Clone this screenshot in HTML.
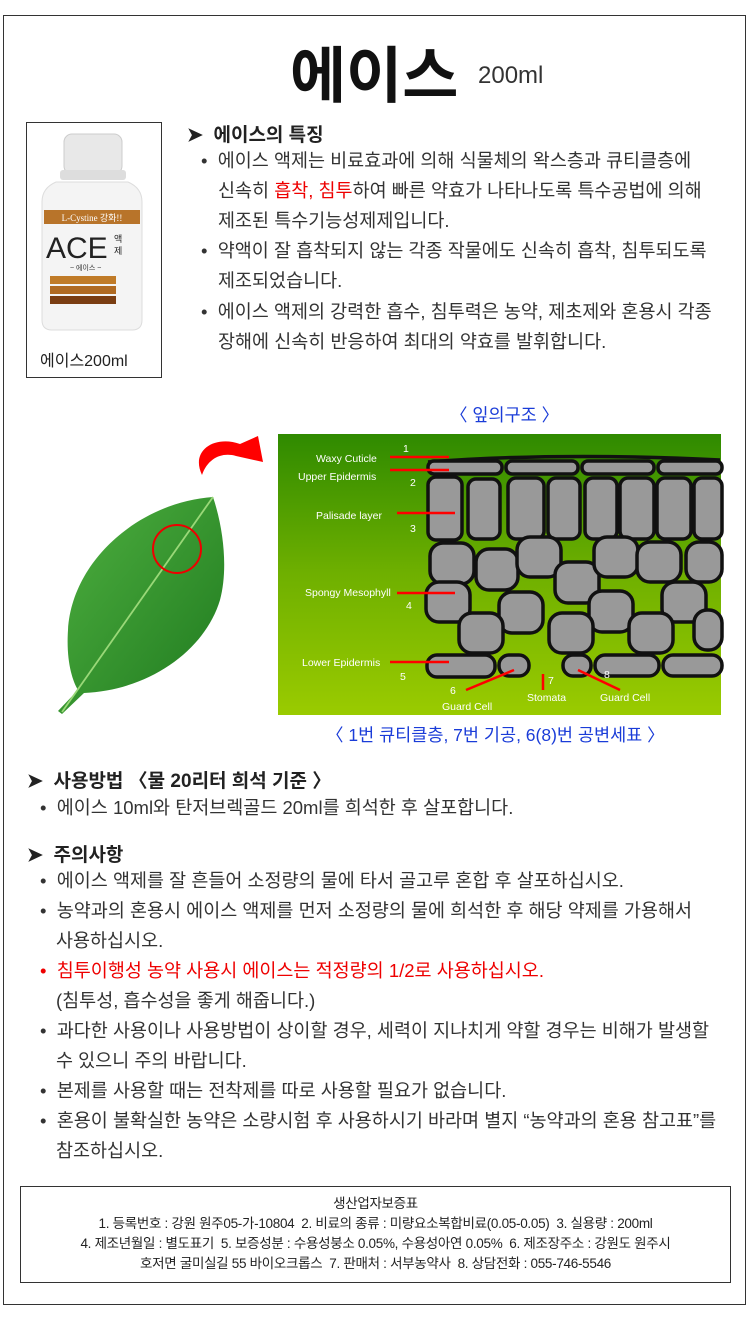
<!DOCTYPE html>
<html><head><meta charset="utf-8"><style>
*{margin:0;padding:0;box-sizing:border-box}
body{width:750px;height:1327px;background:#fff;position:relative;font-family:"Liberation Sans","Noto Sans CJK KR",sans-serif;color:#222;overflow:hidden}
.a{position:absolute;white-space:nowrap}
.t{font-size:18.5px;line-height:30px;color:#333}
.h{font-size:19px;font-weight:bold}
.r{color:#e00}
.b{color:#1a3cd8;font-size:17.5px}
.ft{font-size:13.5px;text-align:center;line-height:20px;letter-spacing:-0.3px}
</style></head><body>
<div class="a" style="left:3px;top:15px;width:743px;height:1290px;border:1px solid #333"></div>
<div class="a" style="left:290px;top:26px;font-size:61px;font-weight:bold;color:#111">에이스</div>
<div class="a" style="left:478px;top:62px;font-size:24px;color:#333">200ml</div>

<div class="a" style="left:26px;top:122px;width:136px;height:256px;border:1px solid #333"></div>
<svg class="a" style="left:36px;top:130px" width="110" height="208" viewBox="0 0 110 208">
<rect x="28" y="4" width="58" height="40" rx="8" fill="#e8e8e8" stroke="#ccc"/>
<rect x="24" y="40" width="66" height="10" rx="3" fill="#ddd"/>
<path d="M20 52 Q6 58 6 72 L6 190 Q6 200 16 200 L96 200 Q106 200 106 190 L106 72 Q106 58 92 52 Z" fill="#f4f4f4" stroke="#ddd"/>
<rect x="8" y="80" width="96" height="14" fill="#b8742a"/>
<text x="56" y="91" font-size="9" fill="#fff" text-anchor="middle" font-family="Liberation Serif,serif">L-Cystine 강화!!</text>
<text x="10" y="128" font-size="30" fill="#222" font-family="Liberation Sans,sans-serif">ACE</text>
<text x="78" y="112" font-size="9" fill="#222">액</text><text x="78" y="124" font-size="9" fill="#222">제</text>
<text x="34" y="140" font-size="7" fill="#333">~ 에이스 ~</text>
<rect x="14" y="146" width="66" height="8" fill="#c07b28"/>
<rect x="14" y="156" width="66" height="8" fill="#b06a22"/>
<rect x="14" y="166" width="66" height="8" fill="#7a3d12"/>
</svg>
<div class="a" style="left:40px;top:347px;font-size:16px;color:#222">에이스200ml</div>

<div class="a h" style="left:187px;top:120px">➤ &nbsp;에이스의 특징</div>
<div class="a t" style="left:201px;top:146px">•&nbsp; 에이스 액제는 비료효과에 의해 식물체의 왁스층과 큐티클층에</div>
<div class="a t" style="left:218px;top:176px">신속히 <span class="r">흡착, 침투</span>하여 빠른 약효가 나타나도록 특수공법에 의해</div>
<div class="a t" style="left:218px;top:206px">제조된 특수기능성제제입니다.</div>
<div class="a t" style="left:201px;top:236px">•&nbsp; 약액이 잘 흡착되지 않는 각종 작물에도 신속히 흡착, 침투되도록</div>
<div class="a t" style="left:218px;top:266px">제조되었습니다.</div>
<div class="a t" style="left:201px;top:297px">•&nbsp; 에이스 액제의 강력한 흡수, 침투력은 농약, 제초제와 혼용시 각종</div>
<div class="a t" style="left:218px;top:327px">장해에 신속히 반응하여 최대의 약효를 발휘합니다.</div>

<div class="a b" style="left:450px;top:402px">〈 잎의구조 〉</div>

<svg class="a" style="left:0;top:0" width="750" height="760" viewBox="0 0 750 760">
<defs><linearGradient id="g" x1="0" y1="0" x2="0" y2="1"><stop offset="0" stop-color="#2f8a00"/><stop offset="0.5" stop-color="#6fb000"/><stop offset="1" stop-color="#9acb00"/></linearGradient>
<linearGradient id="lf" x1="0" y1="0" x2="1" y2="1"><stop offset="0" stop-color="#4fb040"/><stop offset="1" stop-color="#1f7a1f"/></linearGradient></defs>
<rect x="278" y="434" width="443" height="281" fill="url(#g)"/>
<g fill="#999" stroke="#111" stroke-width="3.5">
<path d="M428 462 Q560 452 720 460" fill="none"/>
<rect x="428" y="461" width="74" height="13" rx="6"/><rect x="506" y="461" width="72" height="13" rx="6"/><rect x="582" y="461" width="72" height="13" rx="6"/><rect x="658" y="461" width="64" height="13" rx="6"/>
<rect x="428" y="477" width="34" height="63" rx="8"/><rect x="468" y="479" width="32" height="60" rx="8"/><rect x="508" y="478" width="36" height="61" rx="8"/><rect x="548" y="478" width="32" height="61" rx="8"/><rect x="585" y="478" width="32" height="61" rx="8"/><rect x="620" y="478" width="34" height="61" rx="8"/><rect x="657" y="478" width="34" height="61" rx="8"/><rect x="694" y="478" width="28" height="61" rx="8"/>
<rect x="430" y="543" width="44" height="41" rx="13"/><rect x="476" y="549" width="42" height="41" rx="13"/><rect x="517" y="537" width="44" height="40" rx="13"/><rect x="555" y="562" width="44" height="41" rx="13"/><rect x="594" y="537" width="44" height="40" rx="13"/><rect x="637" y="542" width="44" height="40" rx="13"/><rect x="686" y="542" width="36" height="40" rx="13"/>
<rect x="426" y="582" width="44" height="40" rx="13"/><rect x="499" y="592" width="44" height="41" rx="13"/><rect x="589" y="591" width="44" height="41" rx="13"/><rect x="662" y="582" width="44" height="40" rx="13"/>
<rect x="459" y="613" width="44" height="40" rx="13"/><rect x="549" y="613" width="44" height="40" rx="13"/><rect x="629" y="613" width="44" height="40" rx="13"/><rect x="694" y="610" width="28" height="40" rx="13"/>
<rect x="427" y="655" width="68" height="22" rx="10"/><rect x="499" y="655" width="30" height="21" rx="10"/><rect x="563" y="655" width="28" height="21" rx="10"/><rect x="595" y="655" width="64" height="21" rx="10"/><rect x="663" y="655" width="59" height="21" rx="10"/>
</g>
<g stroke="#f00" stroke-width="2.5">
<line x1="390" y1="457" x2="449" y2="457"/><line x1="390" y1="470" x2="449" y2="470"/><line x1="397" y1="513" x2="455" y2="513"/><line x1="397" y1="593" x2="455" y2="593"/><line x1="390" y1="662" x2="449" y2="662"/>
<line x1="466" y1="690" x2="514" y2="670"/><line x1="543" y1="674" x2="543" y2="690"/><line x1="578" y1="670" x2="620" y2="690"/>
</g>
<g fill="#fff" font-size="10.5" font-family="Liberation Sans,sans-serif">
<text x="316" y="462">Waxy Cuticle</text><text x="298" y="480">Upper Epidermis</text><text x="316" y="519">Palisade layer</text><text x="305" y="596">Spongy Mesophyll</text><text x="302" y="666">Lower Epidermis</text>
<text x="403" y="452">1</text><text x="410" y="486">2</text><text x="410" y="532">3</text><text x="406" y="609">4</text><text x="400" y="680">5</text><text x="450" y="694">6</text><text x="548" y="684">7</text><text x="604" y="678">8</text>
<text x="442" y="710">Guard Cell</text><text x="527" y="701">Stomata</text><text x="600" y="701">Guard Cell</text>
</g>
<path d="M213 497 C140 502 72 560 68 630 C66 660 72 680 78 690 L58 711 L62 714 L84 693 C150 690 205 650 220 600 C228 570 224 530 213 497 Z" fill="url(#lf)"/>
<path d="M213 497 L62 712" stroke="#9ad878" stroke-width="1.8" fill="none"/>
<circle cx="177" cy="549" r="24" fill="none" stroke="#e00" stroke-width="2"/>
<path d="M202 475 C190 450 215 435 240 444 L258 436 L263 462 L236 456 C222 452 208 458 202 475 Z" fill="#f00"/>
</svg>

<div class="a b" style="left:326px;top:722px">〈 1번 큐티클층, 7번 기공, 6(8)번 공변세표 〉</div>

<div class="a h" style="left:27px;top:766px">➤ &nbsp;사용방법 〈물 20리터 희석 기준 〉</div>
<div class="a t" style="left:40px;top:793px">•&nbsp; 에이스 10ml와 탄저브렉골드 20ml를 희석한 후 살포합니다.</div>
<div class="a h" style="left:27px;top:840px">➤ &nbsp;주의사항</div>
<div class="a t" style="left:40px;top:866px">•&nbsp; 에이스 액제를 잘 흔들어 소정량의 물에 타서 골고루 혼합 후 살포하십시오.</div>
<div class="a t" style="left:40px;top:896px">•&nbsp; 농약과의 혼용시 에이스 액제를 먼저 소정량의 물에 희석한 후 해당 약제를 가용해서</div>
<div class="a t" style="left:56px;top:926px">사용하십시오.</div>
<div class="a t r" style="left:40px;top:956px">•&nbsp; 침투이행성 농약 사용시 에이스는 적정량의 1/2로 사용하십시오.</div>
<div class="a t" style="left:56px;top:986px">(침투성, 흡수성을 좋게 해줍니다.)</div>
<div class="a t" style="left:40px;top:1016px">•&nbsp; 과다한 사용이나 사용방법이 상이할 경우, 세력이 지나치게 약할 경우는 비해가 발생할</div>
<div class="a t" style="left:56px;top:1046px">수 있으니 주의 바랍니다.</div>
<div class="a t" style="left:40px;top:1076px">•&nbsp; 본제를 사용할 때는 전착제를 따로 사용할 필요가 없습니다.</div>
<div class="a t" style="left:40px;top:1106px">•&nbsp; 혼용이 불확실한 농약은 소량시험 후 사용하시기 바라며 별지 “농약과의 혼용 참고표”를</div>
<div class="a t" style="left:56px;top:1136px">참조하십시오.</div>

<div class="a ft" style="left:20px;top:1186px;width:711px;height:97px;border:1px solid #333;padding-top:7px">
생산업자보증표<br>
1. 등록번호 : 강원 원주05-가-10804 &nbsp;2. 비료의 종류 : 미량요소복합비료(0.05-0.05) &nbsp;3. 실용량 : 200ml<br>
4. 제조년월일 : 별도표기 &nbsp;5. 보증성분 : 수용성붕소 0.05%, 수용성아연 0.05% &nbsp;6. 제조장주소 : 강원도 원주시<br>
호저면 굴미실길 55 바이오크롭스 &nbsp;7. 판매처 : 서부농약사 &nbsp;8. 상담전화 : 055-746-5546
</div>
</body></html>
